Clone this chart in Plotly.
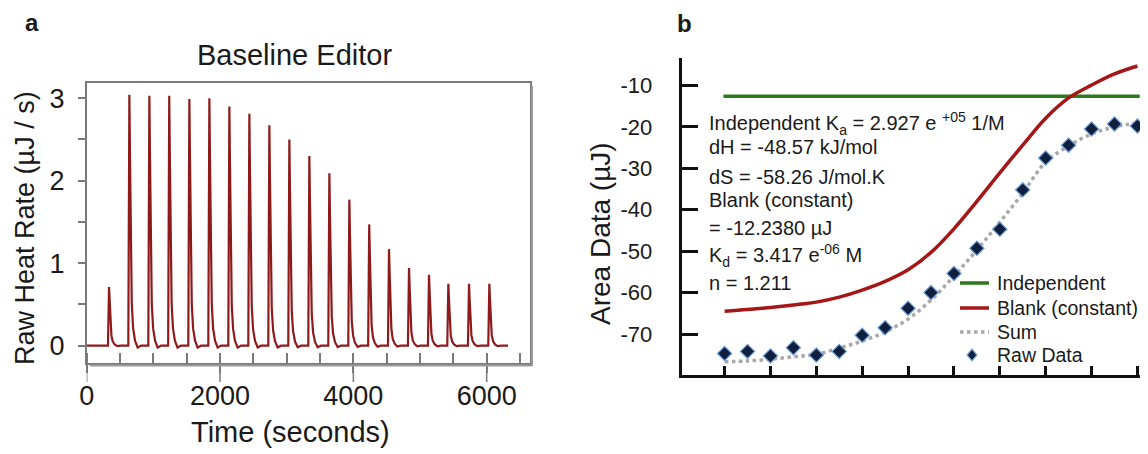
import plotly.graph_objects as go

# ---------------- Panel a data (raw ITC thermogram) ----------------
injection_times_s = [335, 640, 940, 1238, 1540, 1840, 2140, 2440, 2740, 3040,
                     3340, 3640, 3940, 4238, 4535, 4835, 5135, 5425, 5735, 6040]
peak_heights_uJs = [0.71, 3.04, 3.03, 3.03, 2.99, 3.00, 2.90, 2.81, 2.67, 2.50,
                    2.30, 2.09, 1.77, 1.47, 1.17, 0.94, 0.86, 0.75, 0.75, 0.75]
# shape of one injection pulse (time offset, fraction of peak)
pulse_offsets_s = [-16, 0, 10, 22, 36, 56, 85, 125, 175]
pulse_fraction = [0.0, 1.0, 0.74, 0.38, 0.17, 0.07, 0.02, -0.008, 0.0]
trace_start_s = 0
trace_end_s = 6320
time_ticks_s = [0, 2000, 4000, 6000]

# ---------------- Panel b data (integrated heats) ----------------
injection_number = list(range(1, 20))
raw_data_uJ = [-74.7, -74.2, -75.3, -73.3, -75.1, -74.2, -70.3, -68.5, -63.8, -60.0,
               -55.4, -49.3, -44.7, -35.2, -27.5, -24.4, -20.5, -19.3, -19.8]
sum_fit_uJ = [-76.7, -76.5, -76.1, -75.5, -74.9, -73.4, -71.7, -69.5, -66.4, -61.8,
              -56.0, -49.7, -43.0, -36.0, -28.5, -24.6, -21.7, -20.0, -19.1]
blank_curve_uJ = [-64.5, -64.1, -63.6, -63.0, -62.3, -61.1, -59.4, -57.3, -54.5, -50.3,
                  -44.6, -38.0, -31.1, -24.4, -17.9, -13.0, -9.9, -7.2, -5.3]
independent_x = [0.95, 19.1]
independent_uJ = [-12.6, -12.6]
area_tick_vals = [-70, -60, -50, -40, -30, -20, -10]
area_tick_text = ["-70", "-60", "-50", "-40", "-30", "-20", "-10"]

fit_lines = [
    ("Independent K<sub>a</sub> = 2.927 e <sup>+05</sup> 1/M", 124),
    ("dH = -48.57 kJ/mol", 147),
    ("dS = -58.26 J/mol.K", 177),
    ("Blank (constant)", 200),
    ("= -12.2380 µJ", 228),
    ("K<sub>d</sub> = 3.417 e<sup>-06</sup> M", 255),
    ("n = 1.211", 283),
]
legend_names = ["Independent", "Blank (constant)", "Sum", "Raw Data"]

# page has an 8px body margin; figure is sized/placed to compensate
OX, OY = 8, 8
W, H = 1148 - OX, 454 - OY
FONT = "Liberation Sans, Arial, Helvetica, sans-serif"
TXT = "#1a1a1a"

GREEN, RED, GREY = "#2d7a1a", "#a51616", "#a8a8a8"
DIAM_FILL, DIAM_EDGE = "#0f1f3d", "#6f9fd8"


def X(px):
    return (px - OX) / W


def Y(py):
    return 1 - (py - OY) / H


# build thermogram from injections
t_vals = [trace_start_s]
q_vals = [0.0]
for t0, h in zip(injection_times_s, peak_heights_uJs):
    for off, fr in zip(pulse_offsets_s, pulse_fraction):
        t_vals.append(t0 + off)
        q_vals.append(h * fr)
t_vals.append(trace_end_s)
q_vals.append(0.0)

fig = go.Figure()

fig.add_trace(go.Scatter(
    x=t_vals, y=q_vals, mode="lines", xaxis="x", yaxis="y",
    line=dict(color="#8e1b1b", width=2.2), showlegend=False, hoverinfo="skip"))

fig.add_trace(go.Scatter(
    x=independent_x, y=independent_uJ, mode="lines", name=legend_names[0],
    xaxis="x2", yaxis="y2", line=dict(color=GREEN, width=3.5), showlegend=False))
fig.add_trace(go.Scatter(
    x=injection_number, y=blank_curve_uJ, mode="lines", name=legend_names[1],
    xaxis="x2", yaxis="y2", line=dict(color=RED, width=3.5, shape="spline"),
    showlegend=False))
fig.add_trace(go.Scatter(
    x=injection_number, y=sum_fit_uJ, mode="lines", name=legend_names[2],
    xaxis="x2", yaxis="y2", line=dict(color=GREY, width=3.5, dash="dot", shape="spline"),
    showlegend=False))
fig.add_trace(go.Scatter(
    x=injection_number, y=raw_data_uJ, mode="markers", name=legend_names[3],
    xaxis="x2", yaxis="y2", showlegend=False,
    marker=dict(symbol="diamond", size=11, color=DIAM_FILL,
                line=dict(color=DIAM_EDGE, width=1.2))))

axis_font = dict(family=FONT, color=TXT)
FRAME = "#7a7a7a"

fig.update_layout(
    width=W, height=H, autosize=False,
    margin=dict(l=0, r=0, t=0, b=0),
    paper_bgcolor="white", plot_bgcolor="white",
    font=dict(family=FONT, color=TXT),
    showlegend=False,
    xaxis=dict(
        domain=[X(86.7), X(530)], range=[0, 6650], anchor="y",
        showline=True, linecolor=FRAME, linewidth=1.5, mirror=True,
        showgrid=False, zeroline=False,
        tickmode="array", tickvals=time_ticks_s,
        ticks="outside", ticklen=8, tickwidth=1.5, tickcolor=FRAME,
        tickfont=dict(size=27, **axis_font), ticklabelstandoff=0,
        minor=dict(tickmode="linear", tick0=0, dtick=500, ticks="inside",
                   ticklen=10, tickwidth=1.5, tickcolor=FRAME),
        automargin=False),
    yaxis=dict(
        domain=[Y(363), Y(83.3)], range=[-0.21, 3.18], anchor="x",
        showline=True, linecolor=FRAME, linewidth=1.5, mirror=True,
        showgrid=False, zeroline=False,
        tickmode="linear", tick0=0, dtick=1,
        ticks="outside", ticklen=7, tickwidth=1.5, tickcolor=FRAME,
        tickfont=dict(size=27, **axis_font), ticklabelstandoff=8,
        minor=dict(tickmode="linear", tick0=0, dtick=0.5, ticks="outside",
                   ticklen=7, tickwidth=1.5, tickcolor=FRAME),
        automargin=False),
    xaxis2=dict(
        domain=[X(681.7), X(1142)], range=[-0.87, 19.2], anchor="y2",
        showline=True, linecolor="#111", linewidth=3,
        showgrid=False, zeroline=False,
        tickmode="linear", tick0=1, dtick=2, showticklabels=False,
        ticks="inside", ticklen=9, tickwidth=2.5, tickcolor="#111",
        automargin=False),
    yaxis2=dict(
        domain=[Y(375), Y(58)], range=[-79.9, -3.36], anchor="x2",
        showline=True, linecolor="#111", linewidth=3,
        showgrid=False, zeroline=False,
        tickmode="array", tickvals=area_tick_vals, ticktext=area_tick_text,
        ticks="inside", ticklen=16, tickwidth=2.5, tickcolor="#111",
        tickfont=dict(size=22, **axis_font), ticklabelstandoff=22,
        automargin=False),
)

shapes = []
# long major time ticks reaching down to the labels
for tv in time_ticks_s:
    shapes.append(dict(type="line", xref="x", yref="paper", x0=tv, x1=tv,
                       y0=Y(363), y1=Y(382), line=dict(color=FRAME, width=1.5)))
# soft shadow on right/bottom of panel a frame
shapes.append(dict(type="line", xref="paper", yref="paper", x0=X(532), x1=X(532),
                   y0=Y(366), y1=Y(86), line=dict(color="#9a9a9a", width=2)))
shapes.append(dict(type="line", xref="paper", yref="paper", x0=X(90), x1=X(532),
                   y0=Y(365.5), y1=Y(365.5), line=dict(color="#9a9a9a", width=2)))

# legend drawn by hand (symbols + labels)
leg_y = [283, 308, 332, 355]
leg_x0, leg_x1, leg_text_x = 960, 989, 995
shapes.append(dict(type="line", xref="paper", yref="paper", x0=X(leg_x0), x1=X(leg_x1),
                   y0=Y(leg_y[0]), y1=Y(leg_y[0]), line=dict(color=GREEN, width=3.5)))
shapes.append(dict(type="line", xref="paper", yref="paper", x0=X(leg_x0), x1=X(leg_x1),
                   y0=Y(leg_y[1]), y1=Y(leg_y[1]), line=dict(color=RED, width=3.5)))
shapes.append(dict(type="line", xref="paper", yref="paper", x0=X(leg_x0), x1=X(leg_x1),
                   y0=Y(leg_y[2]), y1=Y(leg_y[2]), line=dict(color=GREY, width=3.5, dash="dot")))
cx, cy, r = 972, leg_y[3], 5.8
path = (f"M {X(cx)},{Y(cy - r)} L {X(cx + r * 0.85)},{Y(cy)} "
        f"L {X(cx)},{Y(cy + r)} L {X(cx - r * 0.85)},{Y(cy)} Z")
shapes.append(dict(type="path", xref="paper", yref="paper", path=path,
                   fillcolor=DIAM_FILL, line=dict(color=DIAM_EDGE, width=1.2)))

fig.update_layout(shapes=shapes)

annotations = [
    dict(text="<b>a</b>", x=X(32), y=Y(23), font=dict(size=24)),
    dict(text="<b>b</b>", x=X(684), y=Y(24), font=dict(size=24)),
    dict(text="Baseline Editor", x=X(294), y=Y(55), font=dict(size=29)),
    dict(text="Time (seconds)", x=X(290), y=Y(432), font=dict(size=29)),
    dict(text="Raw Heat Rate (µJ / s)", x=X(25), y=Y(228), textangle=-90, font=dict(size=27)),
    dict(text="Area Data (µJ)", x=X(600), y=Y(233), textangle=-90, font=dict(size=28)),
]
for txt, py in fit_lines:
    annotations.append(dict(text=txt, x=X(707), y=Y(py), xanchor="left",
                            font=dict(size=20)))
for name, py in zip(legend_names, leg_y):
    annotations.append(dict(text=name, x=X(leg_text_x), y=Y(py), xanchor="left",
                            font=dict(size=19.5)))

for a in annotations:
    a.setdefault("xanchor", "center")
    a.update(xref="paper", yref="paper", yanchor="middle", showarrow=False)
    a["font"] = dict(family=FONT, color=TXT, **a["font"])

fig.update_layout(annotations=annotations)

fig.write_html("out.html")
